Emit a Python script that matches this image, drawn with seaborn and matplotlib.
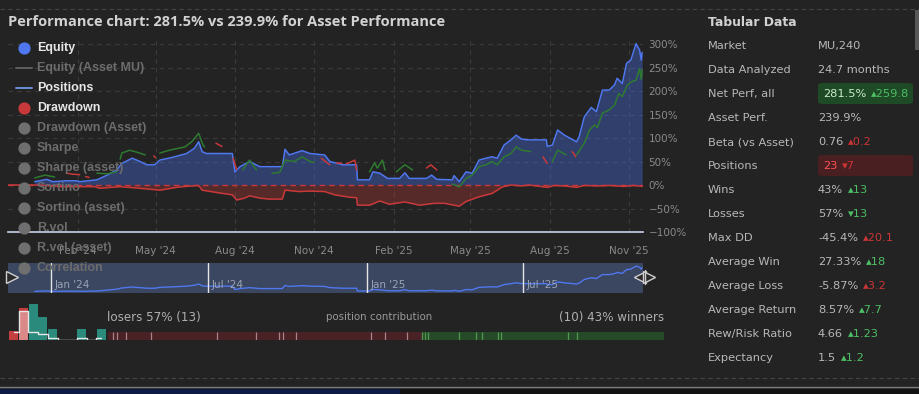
import numpy as np
import pandas as pd
import matplotlib
matplotlib.use("Agg")
import matplotlib.pyplot as plt
import matplotlib.dates as mdates
import seaborn as sns
from matplotlib.lines import Line2D
from matplotlib.patches import Rectangle, FancyBboxPatch
from matplotlib.ticker import FuncFormatter

# ---------------- data ----------------
title = "Performance chart: 281.5% vs 239.9% for Asset Performance"

eq_dates = ['2023-12-13','2023-12-27','2024-01-03','2024-01-19','2024-01-31','2024-02-03','2024-02-23','2024-03-06','2024-03-17','2024-03-23',
            '2024-04-04','2024-04-13','2024-04-21','2024-04-30','2024-05-06','2024-05-21','2024-06-06','2024-06-15','2024-06-20','2024-06-24',
            '2024-06-29','2024-07-29','2024-08-01','2024-08-07','2024-08-18','2024-08-30','2024-09-25','2024-09-28','2024-10-03','2024-10-18',
            '2024-10-27','2024-11-07','2024-11-13','2024-11-19','2024-12-04','2024-12-20','2024-12-21','2025-01-04','2025-01-08','2025-01-16',
            '2025-01-25','2025-02-08','2025-02-14','2025-02-19','2025-03-11','2025-03-17','2025-03-23','2025-04-10','2025-04-12','2025-04-18',
            '2025-04-26','2025-05-03','2025-05-11','2025-05-19','2025-05-26','2025-06-01','2025-06-09','2025-06-17','2025-06-23','2025-06-29',
            '2025-07-06','2025-07-28','2025-07-29','2025-08-04','2025-08-10','2025-08-18','2025-08-27','2025-09-01','2025-09-04','2025-09-10',
            '2025-09-18','2025-09-24','2025-10-01','2025-10-09','2025-10-15','2025-10-18','2025-10-24','2025-10-29','2025-11-03','2025-11-04',
            '2025-11-09','2025-11-13','2025-11-15','2025-11-16']
eq_values = [7,12,7,9,9,7,11,21,32,46, 57,50,43,43,53,59,67,78,92,71, 67,67,28,39,50,39,39,76,64,73,
             67,65,64,50,43,43,11,11,28,25, 14,14,26,14,14,21,12,11,20,7, 28,25,53,57,60,57,85,96,106,98,
             96,96,82,85,117,106,97,92,103,145, 165,156,202,202,213,227,216,259,266,272, 301,287,266,282]

dd_dates = ['2023-11-12','2023-12-13','2023-12-27','2024-01-11','2024-02-21','2024-02-26','2024-03-21','2024-04-13','2024-05-06','2024-05-29',
            '2024-06-20','2024-06-24','2024-07-11','2024-07-29','2024-08-03','2024-08-12','2024-08-18','2024-08-30','2024-09-10','2024-09-25',
            '2024-09-28','2024-10-15','2024-10-27','2024-11-13','2024-11-25','2024-12-12','2024-12-20','2024-12-21','2025-01-04','2025-01-16',
            '2025-01-27','2025-02-14','2025-03-03','2025-03-20','2025-04-01','2025-04-12','2025-04-18','2025-04-26','2025-05-11','2025-05-26',
            '2025-06-07','2025-06-17','2025-06-29','2025-07-08','2025-07-29','2025-08-06','2025-08-18','2025-09-01','2025-09-10','2025-09-27',
            '2025-10-09','2025-10-26','2025-11-06','2025-11-16']
dd_values = [0,0,-1,-3.5,-3.5,-7,-3.5,-7,-11,-4, -1,-11,-16,-21,-32,-28,-23,-28,-30,-30,
             -11,-14,-13,-14,-21,-26,-27,-43,-43,-34, -41,-36,-43,-39,-39,-43,-45,-35,-25,-18,
             -4,0,-2,0,-5,-1,-2,-5,-1,-2, -1,-3,-1,-3]

pos_len = [3,3,2,3,5,2,7,2,2,3,7,3,2,4,5,3,3,13,2,4,2,16]
pos_side = ['win','loss','loss','win','win','loss','win','loss','loss','win','win',
            'loss','loss','loss','win','win','loss','win','loss','win','loss','win']
pos_dates = ['2023-12-13','2023-12-25','2024-01-05',
             '2024-01-19','2024-01-26','2024-02-03',
             '2024-02-10','2024-02-14',
             '2024-02-23','2024-03-06','2024-03-17',
             '2024-03-21','2024-03-23','2024-04-01','2024-04-09','2024-04-19',
             '2024-04-29','2024-05-01',
             '2024-05-06','2024-05-17','2024-06-04','2024-06-12','2024-06-20','2024-06-25','2024-06-27',
             '2024-07-10','2024-07-17',
             '2024-07-30','2024-08-03',
             '2024-08-10','2024-08-18','2024-08-26',
             '2024-09-13','2024-09-22','2024-09-28','2024-10-09','2024-10-18','2024-10-27','2024-11-01',
             '2024-11-09','2024-11-14','2024-11-19',
             '2024-11-27','2024-12-03',
             '2024-12-08','2024-12-12','2024-12-18','2024-12-20',
             '2025-01-04','2025-01-10','2025-01-13','2025-01-19','2025-01-22',
             '2025-02-04','2025-02-14','2025-02-23',
             '2025-03-11','2025-03-16','2025-03-23',
             '2025-04-10','2025-04-18','2025-04-26','2025-05-03','2025-05-11','2025-05-19','2025-05-26','2025-06-01',
             '2025-06-09','2025-06-17','2025-06-23','2025-06-29','2025-07-10',
             '2025-07-24','2025-07-29',
             '2025-08-04','2025-08-10','2025-08-16','2025-08-20',
             '2025-08-27','2025-08-31',
             '2025-09-01','2025-09-10','2025-09-16','2025-09-22','2025-09-25','2025-10-01','2025-10-09','2025-10-15',
             '2025-10-20','2025-10-24','2025-10-30','2025-11-04','2025-11-09','2025-11-13','2025-11-15','2025-11-16']
pos_values = [15,21,17, 25,23,22, 18,16, 25,24,28, 55,68,74,70,64, 62,58, 68,74,81,92,110,85,81,
              89,82, 57,33, 32,53,32, 25,27,53,50,60,50,48, 57,50,43, 47,46, 45,48,53,32,
              28,47,36,53,32, 28,43,32, 36,43,32, 2,-4,14,21,39,43,50,43,60,67,81,74,71,
              60,46, 50,74,68,64, 71,60, 64,89,117,128,122,153,160,170,195,188,213,220,223,248,225,245]

x_ticks = ['2024-02-01','2024-05-01','2024-08-01','2024-11-01','2025-02-01','2025-05-01','2025-08-01','2025-11-01']
x_labels = ["Feb '24","May '24","Aug '24","Nov '24","Feb '25","May '25","Aug '25","Nov '25"]
y_ticks = [-100,-50,0,50,100,150,200,250,300]
nav_ticks = ['2024-01-01','2024-07-01','2025-01-01','2025-07-01']
nav_labels = ["Jan '24","Jul '24","Jan '25","Jul '25"]

legend_labels = ['Equity','Equity (Asset MU)','Positions','Drawdown','Drawdown (Asset)','Sharpe',
                 'Sharpe (asset)','Sortino','Sortino (asset)','R.vol','R.vol (asset)','Correlation']
legend_kind = ['dot','line','line','dot','dot','dot','dot','dot','dot','dot','dot','dot']
legend_active = [True,False,True,True,False,False,False,False,False,False,False,False]

hist_heights = [0.9,3.2,3.6,2.3,1.1,0,0,1.1,0,1.1]
hist_curve = [0.83,2.93,0.83,0.6,0.17,0,0,0.17,0,0.17]
loser_contrib = [5.3,3.4,9.3,24.7,66.6,39.4,22.6,4,12.7,75.7,13.3,22.3,15.4]
winner_contrib = [2.6,3.0,31,17.4,5.6,16,3.4,66.6,8.4,87.3]

tab_labels = ['Market','Data Analyzed','Net Perf, all','Asset Perf.','Beta (vs Asset)','Positions','Wins',
              'Losses','Max DD','Average Win','Average Loss','Average Return','Rew/Risk Ratio','Expectancy']
tab_values = ['MU,240','24.7 months','281.5%','239.9%','0.76','23','43%','57%','-45.4%','27.33%','-5.87%','8.57%','4.66','1.5']
tab_deltas = ['','','\u25b4259.8','','\u25b40.2','\u25be7','\u25b413','\u25be13','\u25b420.1','\u25b418','\u25b43.2','\u25b47.7','\u25b41.23','\u25b41.2']
tab_good = [None,None,True,None,False,False,True,True,False,True,False,True,True,True]

# ---------------- style ----------------
BG = '#232323'
sns.set_theme(style='dark', rc={'axes.facecolor': BG, 'figure.facecolor': BG})
plt.rcParams['font.family'] = ['DejaVu Sans']
plt.rcParams['axes.unicode_minus'] = True

W, H = 920, 394
def fx(x): return x / W
def fy(y): return 1 - y / H
def box(x0, y0, x1, y1): return [x0 / W, 1 - y1 / H, (x1 - x0) / W, (y1 - y0) / H]

EQ_BLUE = '#4f78f0'
DD_RED = '#c8393b'
GREEN = '#2e7a30'
TICK_C = '#8a8a8a'

fig = plt.figure(figsize=(9.2, 3.94), dpi=100, facecolor=BG)

eq = pd.DataFrame({'date': pd.to_datetime(eq_dates), 'equity': eq_values})
dd = pd.DataFrame({'date': pd.to_datetime(dd_dates), 'drawdown': dd_values})
pos = pd.DataFrame({'pos': np.repeat(np.arange(len(pos_len)), pos_len),
                    'date': pd.to_datetime(pos_dates), 'value': pos_values})
pos['side'] = [pos_side[i] for i in pos['pos']]

x0d, x1d = pd.Timestamp('2023-11-12'), pd.Timestamp('2025-11-17')

# ---------------- main chart ----------------
ax = fig.add_axes(box(8, 37, 643, 232))
ax.set_facecolor('none')
for v in y_ticks:
    if v not in (-100, 0):
        ax.axhline(v, color='#3b3b3b', ls=(0, (4, 4)), lw=0.8, zorder=0)
for d in x_ticks:
    ax.axvline(pd.Timestamp(d), color='#3b3b3b', ls=(0, (4, 4)), lw=0.8, zorder=0)

ax.fill_between(eq['date'], 0, eq['equity'], color='#4a6ee8', alpha=0.38, lw=0, zorder=1)
ax.fill_between(dd['date'], dd['drawdown'], 0, color=DD_RED, alpha=0.32, lw=0, zorder=1)
ax.axhline(0, color=DD_RED, ls=(0, (4, 3)), lw=1.0, zorder=2)
sns.lineplot(data=dd, x='date', y='drawdown', ax=ax, color=DD_RED, lw=1.1, estimator=None, sort=False, zorder=3)
sns.lineplot(data=eq, x='date', y='equity', ax=ax, color=EQ_BLUE, lw=1.1, estimator=None, sort=False, zorder=3)
sns.lineplot(data=pos, x='date', y='value', hue='side', units='pos', estimator=None, sort=False,
             palette={'win': GREEN, 'loss': DD_RED}, lw=1.1, legend=False, ax=ax, zorder=4)
ax.set_xlim(x0d, x1d)
ax.set_ylim(-100, 314.9)

for s in ['top', 'left', 'right']:
    ax.spines[s].set_visible(False)
ax.spines['bottom'].set_color('#c8d2e6')
ax.spines['bottom'].set_linewidth(1.2)
ax.set_xticks([pd.Timestamp(d) for d in x_ticks])
ax.set_xticklabels(x_labels)
ax.tick_params(axis='x', colors='#c8d2e6', length=8, width=1, labelcolor=TICK_C, labelsize=7.5, pad=2, direction='out')
ax.yaxis.tick_right()
ax.set_yticks(y_ticks)
ax.yaxis.set_major_formatter(FuncFormatter(lambda v, p: f"{v:.0f}%".replace('-', '\u2212')))
ax.tick_params(axis='y', length=0, labelsize=7.5, labelcolor=TICK_C, pad=4)
ax.set_xlabel('')
ax.set_ylabel('')
ax.grid(False)

# ---------------- legend overlay ----------------
for i, (lab, kind, act) in enumerate(zip(legend_labels, legend_kind, legend_active)):
    y = 48 + 20 * i
    if kind == 'dot':
        c = EQ_BLUE if lab == 'Equity' else (DD_RED if lab == 'Drawdown' else '#6f6f6f')
        fig.add_artist(Line2D([fx(24)], [fy(y)], marker='o', ms=7.8, color=c, mec=c,
                              transform=fig.transFigure, zorder=10))
    else:
        c = '#6a8fd8' if lab == 'Positions' else '#5e5e5e'
        fig.add_artist(Line2D([fx(16), fx(32)], [fy(y), fy(y)], color=c, lw=1.4,
                              transform=fig.transFigure, zorder=10))
    fig.text(fx(37), fy(y), lab, fontsize=9, fontweight='bold', family=['Liberation Sans', 'DejaVu Sans'],
             color='#e6e6e6' if act else '#6c6c6c', va='center', ha='left', zorder=11)

# ---------------- titles ----------------
fig.text(fx(8), fy(22), title, fontsize=10.55, fontweight='bold', family=['Open Sans', 'DejaVu Sans'],
         color='#d2d2d2', va='center', ha='left')
fig.text(fx(708), fy(22), 'Tabular Data', fontsize=8.9, fontweight='bold', color='#d2d2d2', va='center', ha='left')

# frame lines
fig.add_artist(Line2D([0, 1], [fy(9), fy(9)], color='#454545', lw=0.8, ls=(0, (4, 3)), transform=fig.transFigure))
fig.add_artist(Line2D([0, 1], [fy(378), fy(378)], color='#454545', lw=0.8, ls=(0, (4, 3)), transform=fig.transFigure))
fig.add_artist(Line2D([0, 1], [fy(387), fy(387)], color='#7a7a7a', lw=1.0, transform=fig.transFigure))
fig.add_artist(Rectangle((0, 0), fx(400), fy(388.5), color='#0d1a44', transform=fig.transFigure, lw=0))
fig.add_artist(Rectangle((fx(400), 0), 1 - fx(400), fy(388.5), color='#121212', transform=fig.transFigure, lw=0))
fig.add_artist(Rectangle((fx(915), fy(50)), 4 / W, 40 / H, color='#585858', transform=fig.transFigure, lw=0))

# ---------------- navigator ----------------
nav = fig.add_axes(box(8, 263, 643, 293))
nav.set_facecolor('#3b4660')
sns.lineplot(data=eq, x='date', y='equity', ax=nav, color=EQ_BLUE, lw=1.0, estimator=None, sort=False)
for d, lab in zip(nav_ticks, nav_labels):
    dn = mdates.date2num(pd.Timestamp(d))
    nav.axvline(dn, color='#e6e6e6', lw=1.0)
    nav.annotate(lab, (dn, 0.27), xycoords=nav.get_xaxis_transform(), xytext=(2.5, 0),
                 textcoords='offset points', color='#9aa3b5', fontsize=7.5, va='center', ha='left')
nav.set_xlim(x0d, x1d)
nav.set_ylim(-12.5, 337)
nav.set_xticks([]); nav.set_yticks([])
nav.set_xlabel(''); nav.set_ylabel('')
for s in nav.spines.values():
    s.set_visible(False)
fig.add_artist(Line2D([fx(12)], [fy(277)], marker='>', ms=9, mfc='#2a2a2a', mec='#cfcfcf', mew=1.0,
                      transform=fig.transFigure, zorder=12))
fig.add_artist(Line2D([fx(640)], [fy(277)], marker='<', ms=9, mfc='#2a2a2a', mec='#cfcfcf', mew=1.0,
                      transform=fig.transFigure, zorder=12))
fig.add_artist(Line2D([fx(649)], [fy(277)], marker='>', ms=9, mfc='#2a2a2a', mec='#cfcfcf', mew=1.0,
                      transform=fig.transFigure, zorder=12))
fig.add_artist(Line2D([fx(644.5), fx(644.5)], [fy(270), fy(284)], color='#cfcfcf', lw=1.0,
                      transform=fig.transFigure, zorder=12))

# ---------------- histogram ----------------
hx = fig.add_axes(box(9, 300, 106, 340))
hx.set_facecolor('none')
bins = np.arange(len(hist_heights))
hcolors = ['#c44040' if i < 2 else '#2a8a7c' for i in bins]
hx.bar(bins, hist_heights, width=0.92, color=hcolors, lw=0)
hx.bar([1], [hist_curve[1]], width=0.92, color='white', alpha=0.38, lw=0)
hx.step(bins, hist_curve, where='mid', color='#e6e6e6', lw=1.0)
hx.set_xlim(-0.5, len(bins) - 0.5)
hx.set_ylim(0, 4.0)
hx.axis('off')

# ---------------- contribution bar ----------------
cx = fig.add_axes(box(108, 332, 664, 340))
cx.set_facecolor('none')
n_l, n_w = len(loser_contrib), len(winner_contrib)
lw_share = n_l / (n_l + n_w)
lvals = np.array(loser_contrib) / sum(loser_contrib) * lw_share
wvals = np.array(winner_contrib) / sum(winner_contrib) * (1 - lw_share)
cx.barh(0, lw_share, left=0, height=1, color='#4a2226', lw=0)
cx.barh(0, 1 - lw_share, left=lw_share, height=1, color='#264a27', lw=0)
lb = np.cumsum(lvals)[:-1]
wb = lw_share + np.concatenate([[0], np.cumsum(wvals)[:-1]])
cx.vlines(lb, -0.5, 0.5, color='#a88488', lw=0.9)
cx.vlines(wb, -0.5, 0.5, color='#4f9a50', lw=0.9)
cx.set_xlim(0, 1)
cx.set_ylim(-0.5, 0.5)
cx.axis('off')

fig.text(fx(107), fy(317), 'losers 57% (13)', fontsize=8.6, color='#b0b0b0', va='center', ha='left')
fig.text(fx(326), fy(317), 'position contribution', fontsize=7.4, color='#9a9a9a', va='center', ha='left')
fig.text(fx(664), fy(317), '(10) 43% winners', fontsize=8.6, color='#b0b0b0', va='center', ha='right')

# ---------------- tabular data ----------------
renderer = fig.canvas.get_renderer()
LAB = '#b8b8b8'
for i, (lab, val, dl, good) in enumerate(zip(tab_labels, tab_values, tab_deltas, tab_good)):
    y = 46 + 24 * i
    fig.text(fx(708), fy(y), lab, fontsize=8.2, color=LAB, va='center', ha='left')
    vx, vcol = 818, LAB
    if lab == 'Net Perf, all':
        fig.add_artist(FancyBboxPatch((fx(818), fy(104)), 95 / W, 21 / H, boxstyle='round,pad=0,rounding_size=0.006',
                                      fc='#1f4a26', ec='none', transform=fig.transFigure))
        vx, vcol = 823, '#cdeccd'
    if lab == 'Positions':
        fig.add_artist(FancyBboxPatch((fx(818), fy(176)), 95 / W, 21 / H, boxstyle='round,pad=0,rounding_size=0.006',
                                      fc='#4a1f22', ec='none', transform=fig.transFigure))
        vx, vcol = 823, '#ff5252'
    t = fig.text(fx(vx), fy(y), val, fontsize=8.2, color=vcol, va='center', ha='left')
    if dl:
        bb = t.get_window_extent(renderer=renderer)
        dcol = '#4cbf64' if good else '#cc3535'
        fig.text((bb.x1 + 5) / W, fy(y), dl, fontsize=8.2, color=dcol, va='center', ha='left')

fig.savefig('out.png', dpi=100, facecolor=BG)
